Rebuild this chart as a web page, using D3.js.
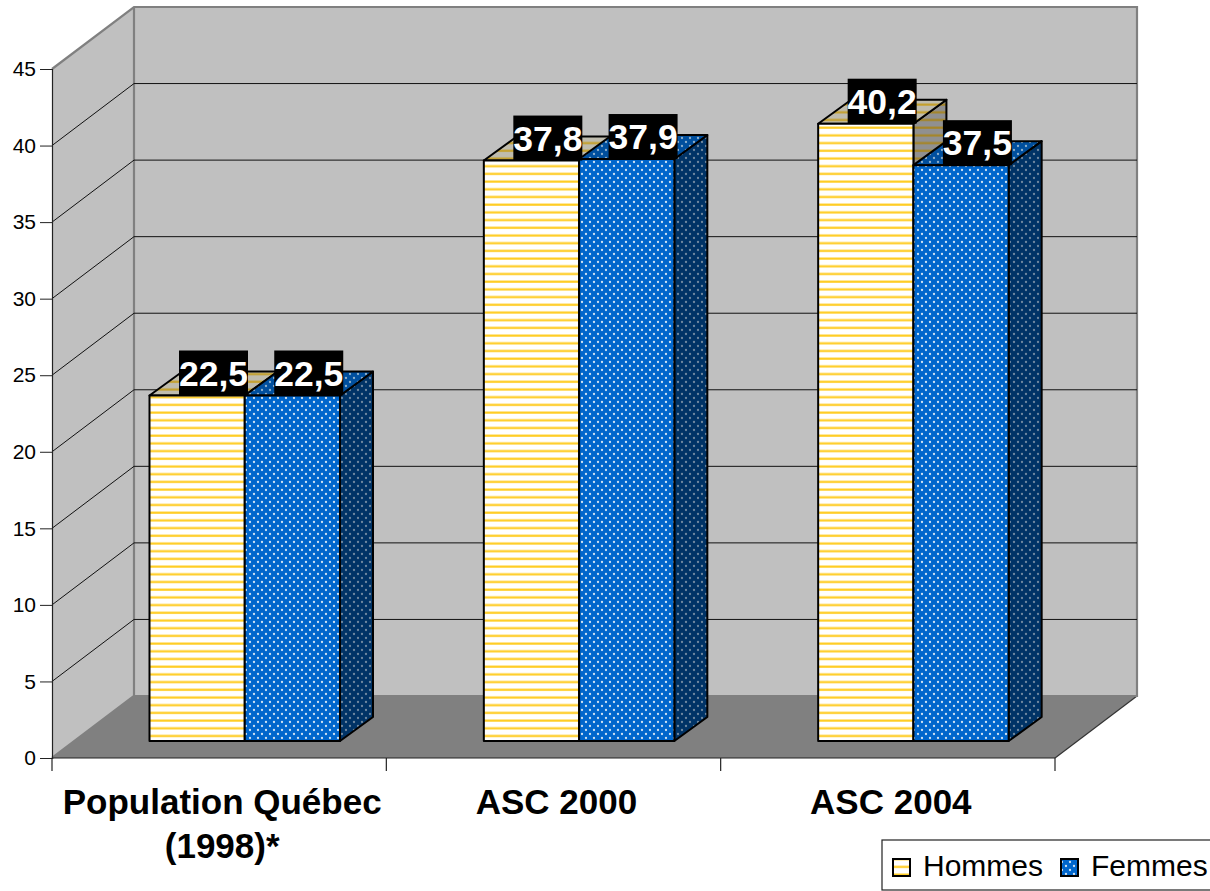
<!DOCTYPE html>
<html lang="fr">
<head>
  <meta charset="utf-8">
  <title>Population Québec / ASC</title>
  <script src="https://d3js.org/d3.v7.min.js"></script>
  <style>
    html, body { margin: 0; padding: 0; background: #fff; overflow: hidden; }
    text { font-family: "Liberation Sans", Arial, sans-serif; }
  </style>
</head>
<body>
  <svg id="chart" width="1210" height="891"></svg>
  <script>
    const categories = [["Population Québec", "(1998)*"], ["ASC 2000"], ["ASC 2004"]];
    const hommes = [22.5, 37.8, 40.2];
    const femmes = [22.5, 37.9, 37.5];
    const seriesNames = ["Hommes", "Femmes"];
    const yTicks = [0, 5, 10, 15, 20, 25, 30, 35, 40, 45];

    const svg = d3.select("#chart");
    const defs = svg.append("defs");

    // depth of the 3D box, and of the bars inside it
    const wallDx = 82, wallDy = -62;
    const barDx = 33, barDy = -24;
    const fmt = d3.format(".1f");

    const x = d3.scaleBand().domain(d3.range(categories.length)).range([52, 1055]);
    const y = d3.scaleLinear().domain([0, 45]).range([758, 69]);
    const barY = d3.scaleLinear().domain([0, 45]).range([741, 50]);
    const inner = d3.scaleBand().domain([0, 1]).range([97.5, 97.5 + 190.5]);

    function stripes(id, bg, line) {
      const p = defs.append("pattern").attr("id", id).attr("patternUnits", "userSpaceOnUse")
        .attr("width", 8).attr("height", 7.7);
      p.append("rect").attr("width", 8).attr("height", 7.7).attr("fill", bg);
      p.append("rect").attr("y", 3.4).attr("width", 8).attr("height", 2.2).attr("fill", line);
    }
    function dots(id, bg, dot) {
      const p = defs.append("pattern").attr("id", id).attr("patternUnits", "userSpaceOnUse")
        .attr("width", 8).attr("height", 8);
      p.append("rect").attr("width", 8).attr("height", 8).attr("fill", bg);
      [[2, 2], [6, 6]].forEach(d => {
        p.append("circle").attr("cx", d[0]).attr("cy", d[1]).attr("r", 1.15).attr("fill", dot);
      });
    }
    stripes("hFront", "#ffffff", "#ffcc22");
    stripes("hTop", "#bfbcae", "#c4a02c");
    stripes("hSide", "#909090", "#a58526");
    dots("fFront", "#0066cc", "#cfe2f2");
    dots("fTop", "#004f9e", "#8fb0cc");
    dots("fSide", "#003366", "#7088a0");

    const line = d3.line();

    // floor
    svg.append("path")
      .attr("d", line([[52, 758], [52 + wallDx, 758 + wallDy], [1055 + wallDx, 758 + wallDy], [1055, 758]]) + "Z")
      .attr("fill", "#808080");
    svg.append("path")
      .attr("d", line([[1055, 758], [1055 + wallDx, 758 + wallDy]]))
      .attr("stroke", "#333").attr("stroke-width", 1.2).attr("fill", "none");

    // walls
    svg.append("path")
      .attr("d", line([[52, y(0)], [52 + wallDx, y(0) + wallDy], [52 + wallDx, y(45) + wallDy], [52, y(45)]]) + "Z")
      .attr("fill", "#c0c0c0");
    svg.append("rect")
      .attr("x", 52 + wallDx).attr("y", y(45) + wallDy)
      .attr("width", 1003).attr("height", y(0) - y(45))
      .attr("fill", "#c0c0c0");
    svg.append("path")
      .attr("d", line([[52, y(45)], [52 + wallDx, y(45) + wallDy], [1055 + wallDx, y(45) + wallDy], [1055 + wallDx, y(0) + wallDy], [52 + wallDx, y(0) + wallDy]]))
      .attr("fill", "none").attr("stroke", "#808080").attr("stroke-width", 2.2);
    svg.append("path")
      .attr("d", line([[52 + wallDx, y(45) + wallDy], [52 + wallDx, y(0) + wallDy], [52, y(0)]]))
      .attr("fill", "none").attr("stroke", "#808080").attr("stroke-width", 2.2);

    // gridlines, folded along side wall and back wall
    svg.append("g").selectAll("path")
      .data(yTicks.filter(d => d > 0 && d < 45))
      .enter().append("path")
      .attr("d", d => line([[52, y(d)], [52 + wallDx, y(d) + wallDy], [1055 + wallDx, y(d) + wallDy]]))
      .attr("fill", "none").attr("stroke", "#111").attr("stroke-width", 1);

    // axes
    const yAxis = d3.axisLeft(y).tickValues(yTicks).tickSize(12).tickPadding(4);
    const yG = svg.append("g").attr("transform", "translate(52,0)").call(yAxis);
    yG.selectAll("text").attr("font-size", 21).attr("fill", "#000");
    yG.select(".domain").attr("stroke", "#222").attr("stroke-width", 1.2);
    yG.selectAll(".tick line").attr("stroke", "#222");

    svg.append("path").attr("d", line([[52, 758], [1055, 758]]))
      .attr("stroke", "#222").attr("stroke-width", 1.2).attr("fill", "none");
    svg.append("g").selectAll("path")
      .data(d3.range(categories.length + 1))
      .enter().append("path")
      .attr("d", d => {
        const px = 52 + d * x.step();
        return line([[px, 758], [px, 771]]);
      })
      .attr("stroke", "#222").attr("stroke-width", 1.2);

    const catLabels = svg.append("g").selectAll("text")
      .data(categories)
      .enter().append("text")
      .attr("text-anchor", "middle")
      .attr("font-weight", "bold")
      .attr("font-size", 35)
      .attr("fill", "#000");
    catLabels.selectAll("tspan")
      .data((d, i) => d.map((t, k) => ({ t, k, i })))
      .enter().append("tspan")
      .attr("x", d => x(d.i) + x.bandwidth() / 2 + 3)
      .attr("y", d => 814 + d.k * 44)
      .text(d => d.t);

    // bars: hommes first so the femmes top face sits over the hommes side face
    const series = [
      { values: hommes, key: 0, front: "url(#hFront)", top: "url(#hTop)", side: "url(#hSide)" },
      { values: femmes, key: 1, front: "url(#fFront)", top: "url(#fTop)", side: "url(#fSide)" }
    ];
    const barsG = svg.append("g");
    series.forEach(s => {
      s.values.forEach((v, i) => {
        const x0 = x(i) + inner(s.key), x1 = x0 + inner.bandwidth();
        const y0 = barY(0), y1 = barY(v);
        const g = barsG.append("g")
          .attr("stroke", "#000").attr("stroke-width", 2).attr("stroke-linejoin", "round");
        g.append("path").attr("fill", s.side)
          .attr("d", line([[x1, y1], [x1 + barDx, y1 + barDy], [x1 + barDx, y0 + barDy], [x1, y0]]) + "Z");
        g.append("path").attr("fill", s.top)
          .attr("d", line([[x0, y1], [x0 + barDx, y1 + barDy], [x1 + barDx, y1 + barDy], [x1, y1]]) + "Z");
        g.append("rect").attr("fill", s.front)
          .attr("x", x0).attr("y", y1).attr("width", x1 - x0).attr("height", y0 - y1);
      });
    });

    // value labels on black boxes
    const labelsG = svg.append("g");
    series.forEach(s => {
      s.values.forEach((v, i) => {
        const cx = x(i) + inner(s.key) + 64;
        const bottom = barY(v);
        labelsG.append("rect")
          .attr("x", cx - 34.5).attr("y", bottom - 45)
          .attr("width", 69).attr("height", 45).attr("fill", "#000");
        labelsG.append("text")
          .attr("x", cx).attr("y", bottom - 10)
          .attr("text-anchor", "middle")
          .attr("font-weight", "bold").attr("font-size", 35.5)
          .attr("fill", "#fff")
          .text(fmt(v).replace(".", ","));
      });
    });

    // legend
    const legend = svg.append("g");
    legend.append("rect")
      .attr("x", 882).attr("y", 840).attr("width", 340).attr("height", 50)
      .attr("fill", "#fff").attr("stroke", "#222").attr("stroke-width", 1.2);
    const legendX = [893, 1061];
    const legendFill = ["url(#hFront)", "url(#fFront)"];
    seriesNames.forEach((name, i) => {
      legend.append("rect")
        .attr("x", legendX[i]).attr("y", 859).attr("width", 17).attr("height", 17)
        .attr("fill", legendFill[i]).attr("stroke", "#000").attr("stroke-width", 2);
      legend.append("text")
        .attr("x", legendX[i] + 30).attr("y", 875.5)
        .attr("font-size", 30).attr("fill", "#000")
        .text(name);
    });
  </script>
</body>
</html>
